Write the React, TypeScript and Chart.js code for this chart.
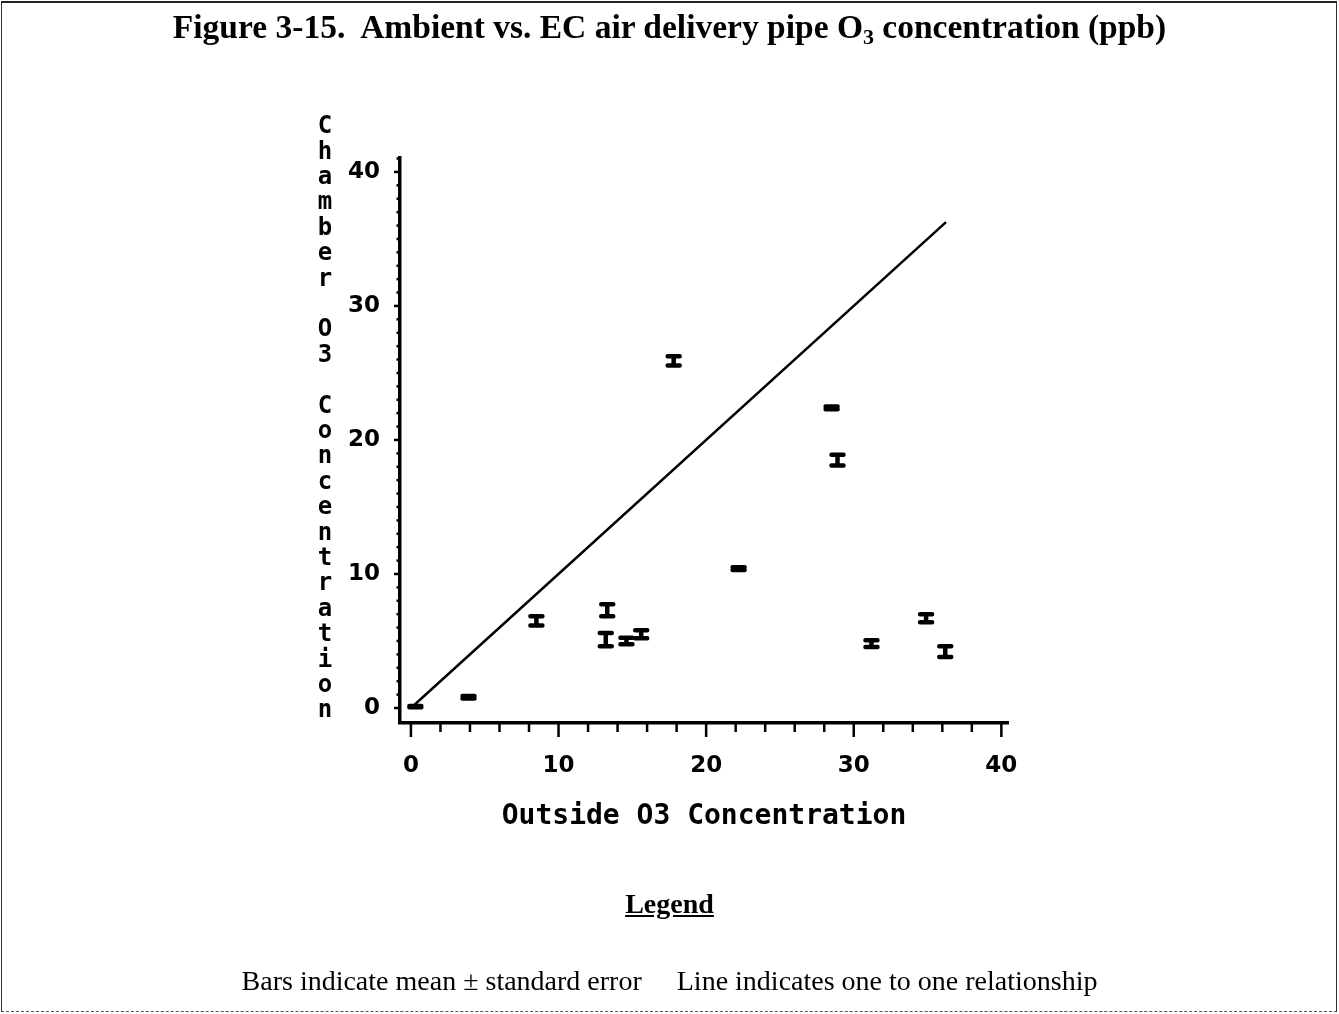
import React, { useEffect, useRef } from 'react';
import { Chart, registerables } from 'chart.js';

Chart.register(...registerables);

// ---- data ----
const outsideO3 = [0.3, 3.9, 8.5, 13.3, 13.2, 14.6, 15.6, 17.8, 22.2, 28.5, 28.9, 31.2, 34.9, 36.2];
const chamberO3 = [0.1, 0.8, 6.5, 7.3, 5.1, 5.0, 5.5, 25.9, 10.4, 22.4, 18.5, 4.8, 6.7, 4.2];
const stdErr = [0.05, 0.1, 0.35, 0.45, 0.5, 0.25, 0.3, 0.35, 0.1, 0.1, 0.4, 0.25, 0.3, 0.4];
const oneToOneEnds = [0, 36.25];

const xTickValues = [0, 10, 20, 30, 40];
const yTickValues = [0, 10, 20, 30, 40];
const xMinorStep = 2;
const yMinorStep = 1;

const titleMain = 'Figure 3-15.  Ambient vs. EC air delivery pipe O';
const titleSub = '3';
const titleEnd = ' concentration (ppb)';
const xTitle = 'Outside O3 Concentration';
const yTitle = 'Chamber O3 Concentration';
const legendHeading = 'Legend';
const legendBars = 'Bars indicate mean \u00b1 standard error';
const legendLine = 'Line indicates one to one relationship';

const MONO_FONT = '"DejaVu Sans Mono", "Liberation Mono", monospace';
const TICK_FONT = '"DejaVu Sans", "Liberation Sans", sans-serif';

const errorBarPlugin = {
  id: 'errorBars',
  afterDatasetsDraw(chart: any) {
    const { ctx, scales } = chart;
    const x = scales.x;
    const y = scales.y;
    ctx.save();
    ctx.strokeStyle = '#000';
    ctx.lineWidth = 4.5;
    ctx.lineCap = 'round';
    outsideO3.forEach((vx, i) => {
      const px = x.getPixelForValue(vx);
      const yl = y.getPixelForValue(chamberO3[i] - stdErr[i]);
      const yh = y.getPixelForValue(chamberO3[i] + stdErr[i]);
      ctx.beginPath();
      ctx.moveTo(px, yl);
      ctx.lineTo(px, yh);
      ctx.moveTo(px - 6, yl);
      ctx.lineTo(px + 6, yl);
      ctx.moveTo(px - 6, yh);
      ctx.lineTo(px + 6, yh);
      ctx.stroke();
    });
    ctx.restore();
  },
};

const axisDecorPlugin = {
  id: 'axisDecor',
  afterDraw(chart: any) {
    const { ctx, scales, chartArea } = chart;
    const x = scales.x;
    const y = scales.y;
    ctx.save();
    ctx.strokeStyle = '#000';
    ctx.lineWidth = 2.5;
    // x ticks
    for (let v = 0; v <= 40 + 1e-9; v += xMinorStep) {
      const px = x.getPixelForValue(v);
      const len = Math.abs(v % 10) < 1e-9 ? 14 : 9;
      ctx.beginPath();
      ctx.moveTo(px, chartArea.bottom);
      ctx.lineTo(px, chartArea.bottom + len);
      ctx.stroke();
    }
    // y ticks
    for (let v = 0; v <= 41 + 1e-9; v += yMinorStep) {
      const py = y.getPixelForValue(v);
      const len = Math.abs(v % 10) < 1e-9 ? 6 : 3.5;
      ctx.beginPath();
      ctx.moveTo(chartArea.left, py);
      ctx.lineTo(chartArea.left - len, py);
      ctx.stroke();
    }
    // stacked y-axis title
    ctx.fillStyle = '#000';
    ctx.font = 'bold 24px ' + MONO_FONT;
    ctx.textAlign = 'center';
    ctx.textBaseline = 'middle';
    const cx = chartArea.left - 75;
    const top = chartArea.top - 31;
    const pitch = 25.4;
    yTitle.split('').forEach((ch, i) => {
      if (ch !== ' ') ctx.fillText(ch, cx, top + i * pitch);
    });
    ctx.restore();
  },
};

export default function App() {
  const ref = useRef<HTMLCanvasElement | null>(null);

  useEffect(() => {
    if (!ref.current) return;
    const chart = new Chart(ref.current, {
      type: 'scatter',
      data: {
        datasets: [
          {
            type: 'line',
            label: 'One to one',
            data: oneToOneEnds.map((v) => ({ x: v, y: v })),
            borderColor: '#000',
            borderWidth: 2.5,
            pointRadius: 0,
            fill: false,
          } as any,
          {
            label: 'Mean',
            data: outsideO3.map((v, i) => ({ x: v, y: chamberO3[i] })),
            pointRadius: 0,
            backgroundColor: '#000',
          },
        ],
      },
      options: {
        responsive: false,
        animation: false,
        layout: { padding: { left: 340, top: 158, right: 331, bottom: 176 } },
        plugins: { legend: { display: false }, tooltip: { enabled: false } },
        scales: {
          x: {
            type: 'linear',
            min: -0.74,
            max: 40.45,
            afterBuildTicks: (s: any) => {
              s.ticks = xTickValues.map((v) => ({ value: v }));
            },
            afterFit: (s: any) => {
              s.height = 115;
            },
            ticks: {
              autoSkip: false,
              maxRotation: 0,
              padding: 29,
              color: '#000',
              font: { family: TICK_FONT, size: 23, weight: 'bold' },
            },
            grid: { display: true, drawOnChartArea: false, drawTicks: false },
            border: { display: true, width: 3.5, color: '#000' },
            title: {
              display: true,
              text: xTitle,
              color: '#000',
              font: { family: MONO_FONT, size: 28, weight: 'bold' },
              padding: { top: 0, bottom: 4 },
            },
          },
          y: {
            type: 'linear',
            min: -1.12,
            max: 41.04,
            afterBuildTicks: (s: any) => {
              s.ticks = yTickValues.map((v) => ({ value: v }));
            },
            afterFit: (s: any) => {
              s.width = 60;
            },
            ticks: {
              autoSkip: false,
              padding: 20,
              color: '#000',
              font: { family: TICK_FONT, size: 23, weight: 'bold' },
            },
            grid: { display: true, drawOnChartArea: false, drawTicks: false },
            border: { display: true, width: 3.5, color: '#000' },
            title: { display: false },
          },
        },
      },
      plugins: [errorBarPlugin, axisDecorPlugin],
    });
    return () => chart.destroy();
  }, []);

  const serif = '"Liberation Serif", "Times New Roman", serif';

  return (
    <div style={{ position: 'absolute', left: 0, top: 0, width: 1339, height: 1014, background: '#fff', overflow: 'hidden' }}>
      <div
        style={{
          position: 'absolute',
          left: 1,
          top: 1,
          right: 2,
          bottom: 2,
          borderTop: '2px solid #222',
          borderLeft: '1px solid #333',
          borderRight: '1px solid #333',
          borderBottom: '1px dashed #555',
        }}
      />
      <canvas ref={ref} width={1339} height={1014} style={{ position: 'absolute', left: 0, top: 0, width: 1339, height: 1014 }} />
      <div
        style={{
          position: 'absolute',
          left: 0,
          top: 7,
          width: 1339,
          textAlign: 'center',
          fontFamily: serif,
          fontWeight: 'bold',
          fontSize: 33.5,
          lineHeight: '40px',
          color: '#000',
          whiteSpace: 'pre',
        }}
      >
        {titleMain}
        <sub style={{ fontSize: 22, verticalAlign: '-6px' }}>{titleSub}</sub>
        {titleEnd}
      </div>
      <div
        style={{
          position: 'absolute',
          left: 0,
          top: 887,
          width: 1339,
          textAlign: 'center',
          fontFamily: serif,
          fontWeight: 'bold',
          fontSize: 28,
          lineHeight: '34px',
          textDecoration: 'underline',
          color: '#000',
        }}
      >
        {legendHeading}
      </div>
      <div
        style={{
          position: 'absolute',
          left: 0,
          top: 964,
          width: 1339,
          textAlign: 'center',
          fontFamily: serif,
          fontSize: 28,
          lineHeight: '34px',
          color: '#000',
          whiteSpace: 'pre',
        }}
      >
        {legendBars + '     ' + legendLine}
      </div>
    </div>
  );
}
